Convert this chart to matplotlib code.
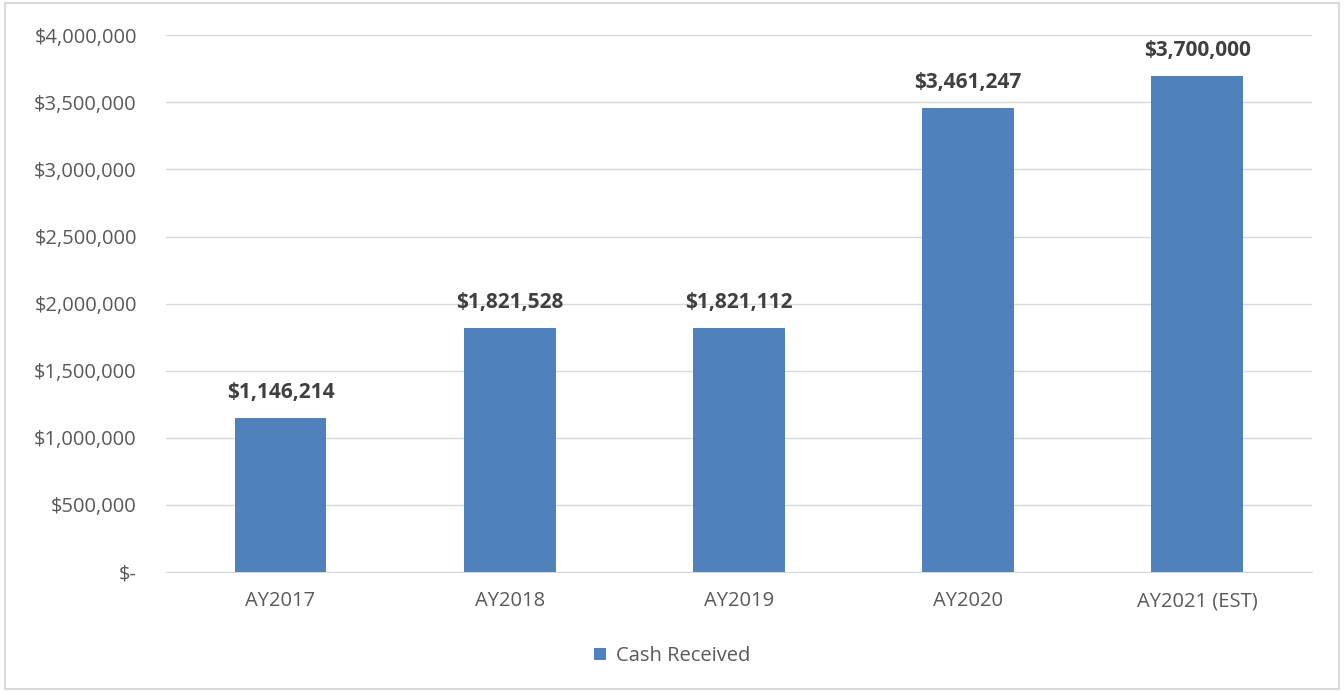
import matplotlib.pyplot as plt
import matplotlib.ticker as mticker
from matplotlib.patches import Rectangle
import numpy as np

years = ["AY2017", "AY2018", "AY2019", "AY2020", "AY2021 (EST)"]
cash = [1146214, 1821528, 1821112, 3461247, 3700000]
yticks = [0, 500000, 1000000, 1500000, 2000000, 2500000, 3000000, 3500000, 4000000]

plt.rcParams['font.family'] = ['Open Sans', 'DejaVu Sans']

fig = plt.figure(figsize=(13.44, 6.92), dpi=100)
ax = fig.add_axes([0.1235, 0.1734, 0.8525, 0.7756])

x = np.arange(len(years))
ax.bar(x, cash, width=0.40, color="#4f81bd", zorder=3, label="Cash Received")

for xi, v in zip(x, cash):
    ax.text(xi, v + 110000, "${:,}".format(v), ha="center", va="bottom",
            fontsize=15, fontweight="bold", color="#404040")

def money(v, pos):
    if v == 0:
        return "$-"
    return "${:,.0f}".format(v)

ax.set_ylim(0, 4000000)
ax.set_xlim(-0.5, len(years) - 0.5)
ax.set_yticks(yticks)
ax.yaxis.set_major_formatter(mticker.FuncFormatter(money))
ax.set_xticks(x)
ax.set_xticklabels(years)
ax.tick_params(axis="both", length=0, labelsize=14.5, colors="#595959")
ax.tick_params(axis="y", pad=21)
ax.tick_params(axis="x", pad=14)
ax.grid(axis="y", color="#d9d9d9", linewidth=1, zorder=0)
for s in ["top", "right", "left"]:
    ax.spines[s].set_visible(False)
ax.spines["bottom"].set_color("#d9d9d9")

leg = fig.legend(loc="center", bbox_to_anchor=(0.5, 0.052), frameon=False,
                 fontsize=14.5, handlelength=0.6, handleheight=0.6, handletextpad=0.5)
for t in leg.get_texts():
    t.set_color("#595959")

fig.patches.append(Rectangle((0.004, 0.004), 0.992, 0.992, transform=fig.transFigure,
                             fill=False, edgecolor="#d9d9d9", linewidth=1.5))

fig.savefig("out.png", dpi=100)
